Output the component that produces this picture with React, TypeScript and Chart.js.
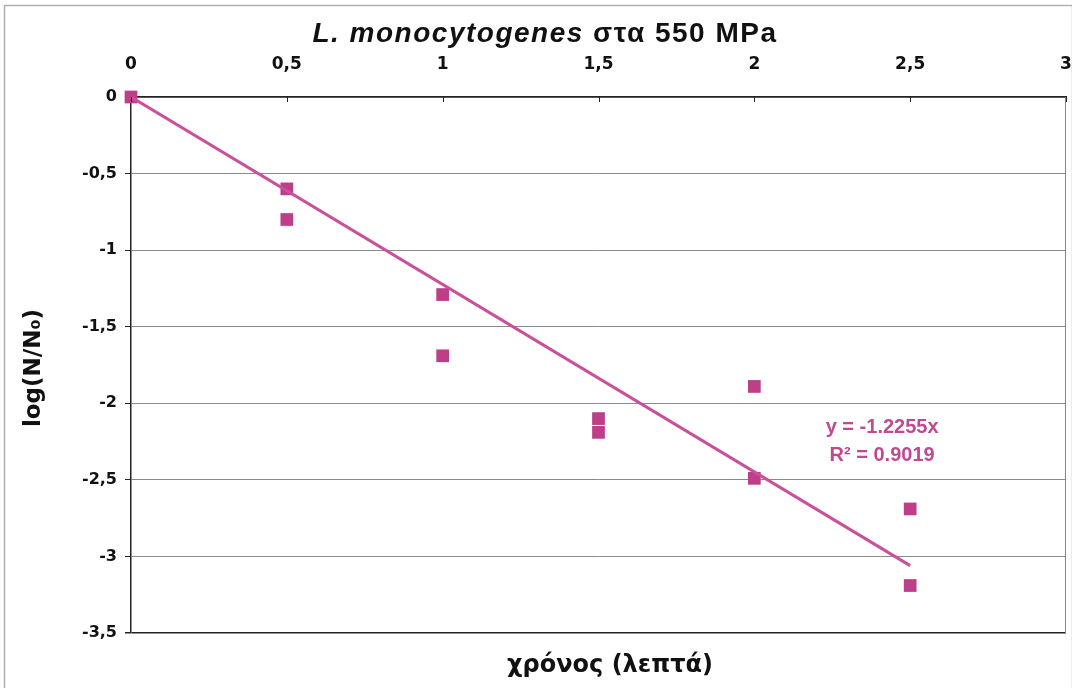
import React, { useEffect, useRef } from 'react';
import { Chart, registerables } from 'chart.js';

Chart.register(...registerables);

// ---- data ----
const timeMin = [0, 0.5, 0.5, 1, 1, 1.5, 1.5, 2, 2, 2.5, 2.5];
const logReduction = [0, -0.6, -0.8, -1.29, -1.69, -2.1, -2.19, -1.89, -2.49, -2.69, -3.19];
const trendX = [0, 2.5];
const trendY = [0, -3.06];
const xTickValues = [0, 0.5, 1, 1.5, 2, 2.5, 3];
const titleItalic = 'L. monocytogenes';
const titleRest = ' στα 550 MPa';
const xTitle = 'χρόνος (λεπτά)';
const yTitle = 'log(N/N₀)';
const eqLines = ['y = -1.2255x', 'R² = 0.9019'];

const FONT = "'Liberation Sans', Arial, sans-serif";
const WIDE = "'DejaVu Sans', sans-serif";
const MARK = '#bc3f88';
const LINE = '#c9509a';

const fmt = (v: number) => String(v).replace('.', ',');

const decorPlugin = {
  id: 'decor',
  beforeDraw(chart: any) {
    const ctx = chart.ctx;
    ctx.save();
    ctx.fillStyle = '#ffffff';
    ctx.fillRect(0, 0, chart.width, chart.height);
    ctx.strokeStyle = '#b0b0b0';
    ctx.lineWidth = 1.5;
    ctx.strokeRect(4.5, 5.5, chart.width - 4, chart.height);
    ctx.restore();
  },
  afterDraw(chart: any) {
    const ctx = chart.ctx;
    const { right, top, bottom } = chart.chartArea;
    const xs = chart.scales.x;
    const ys = chart.scales.y;
    ctx.save();
    // right border
    ctx.strokeStyle = '#888';
    ctx.lineWidth = 1;
    ctx.beginPath();
    ctx.moveTo(right - 0.5, top);
    ctx.lineTo(right - 0.5, bottom);
    ctx.stroke();
    // inside tick marks on top axis
    ctx.strokeStyle = '#222';
    ctx.lineWidth = 1;
    xTickValues.forEach((v) => {
      const px = Math.round(xs.getPixelForValue(v)) + 0.5;
      ctx.beginPath();
      ctx.moveTo(px, top);
      ctx.lineTo(px, top + 5);
      ctx.stroke();
    });
    // title (mixed italic)
    const tf1 = `italic bold 28px ${FONT}`;
    const tf2 = `bold 28px ${FONT}`;
    (ctx as any).letterSpacing = '1.5px';
    ctx.font = tf1;
    const w1 = ctx.measureText(titleItalic).width;
    ctx.font = tf2;
    const w2 = ctx.measureText(titleRest).width;
    const tx = 545 - (w1 + w2) / 2;
    ctx.fillStyle = '#111';
    ctx.textBaseline = 'middle';
    ctx.textAlign = 'left';
    ctx.font = tf1;
    ctx.fillText(titleItalic, tx, 34);
    ctx.font = tf2;
    ctx.fillText(titleRest, tx + w1, 34);
    (ctx as any).letterSpacing = '0px';
    // x title
    ctx.font = `bold 24px ${WIDE}`;
    ctx.textAlign = 'center';
    ctx.fillText(xTitle, 610, 666);
    // y title
    ctx.save();
    ctx.translate(34, (top + bottom) / 2 + 3);
    ctx.rotate(-Math.PI / 2);
    ctx.font = `bold 23px ${WIDE}`;
    ctx.fillText(yTitle, 0, 0);
    ctx.restore();
    // equation
    ctx.fillStyle = '#c04a92';
    ctx.font = `bold 20px ${FONT}`;
    const ex = xs.getPixelForValue(2.41);
    ctx.fillText(eqLines[0], ex, ys.getPixelForValue(-2.16));
    ctx.fillText(eqLines[1], ex, ys.getPixelForValue(-2.34));
    ctx.restore();
  },
};

export default function App() {
  const ref = useRef<HTMLCanvasElement | null>(null);
  useEffect(() => {
    if (!ref.current) return;
    const chart = new Chart(ref.current, {
      type: 'scatter',
      data: {
        datasets: [
          {
            label: 'trend',
            data: trendX.map((x, i) => ({ x, y: trendY[i] })),
            showLine: true,
            borderColor: LINE,
            borderWidth: 3,
            pointRadius: 0,
          },
          {
            label: 'log(N/N0)',
            data: timeMin.map((x, i) => ({ x, y: logReduction[i] })),
            pointStyle: 'rect',
            pointRadius: 9,
            pointBackgroundColor: MARK,
            pointBorderColor: MARK,
            pointBorderWidth: 0,
            showLine: false,
            clip: false,
          },
        ],
      },
      options: {
        responsive: false,
        animation: false,
        layout: { autoPadding: false, padding: { left: 0, right: 6, top: 0, bottom: 55 } },
        plugins: {
          legend: { display: false },
          tooltip: { enabled: false },
          title: { display: false },
        },
        scales: {
          x: {
            type: 'linear',
            position: 'top',
            min: 0,
            max: 3,
            afterFit: (s: any) => {
              s.height = 97;
              s.paddingLeft = 0;
              s.paddingRight = 0;
            },
            afterBuildTicks: (s: any) => { s.ticks = xTickValues.map((v) => ({ value: v })); },
            grid: { display: true, drawOnChartArea: false, drawTicks: false, color: '#222' },
            border: { display: true, color: '#222', width: 1.5 },
            ticks: {
              padding: 22,
              color: '#111',
              font: { family: WIDE, size: 17, weight: 'bold' },
              callback: (v: any) => fmt(Number(v)),
              maxRotation: 0,
            },
          },
          y: {
            type: 'linear',
            min: -3.5,
            max: 0,
            afterFit: (s: any) => {
              s.width = 131;
              s.paddingTop = 0;
              s.paddingBottom = 0;
            },
            grid: {
              color: (c: any) => (c.tick && (c.tick.value === 0 || c.tick.value === -3.5) ? '#222' : '#8a8a8a'),
              lineWidth: (c: any) => (c.tick && (c.tick.value === 0 || c.tick.value === -3.5) ? 1.5 : 1),
              tickColor: '#222',
              tickLength: 6,
            },
            border: { display: true, color: '#222', width: 1.5 },
            ticks: {
              stepSize: 0.5,
              padding: 8,
              color: '#111',
              font: { family: WIDE, size: 16, weight: 'bold' },
              callback: (v: any) => fmt(Number(v)),
            },
          },
        },
      } as any,
      plugins: [decorPlugin],
    });
    return () => chart.destroy();
  }, []);
  return (
    <div style={{ position: 'absolute', left: 0, top: 0, width: 1072, height: 688 }}>
      <canvas ref={ref} width={1072} height={688} style={{ width: 1072, height: 688, display: 'block' }} />
    </div>
  );
}
